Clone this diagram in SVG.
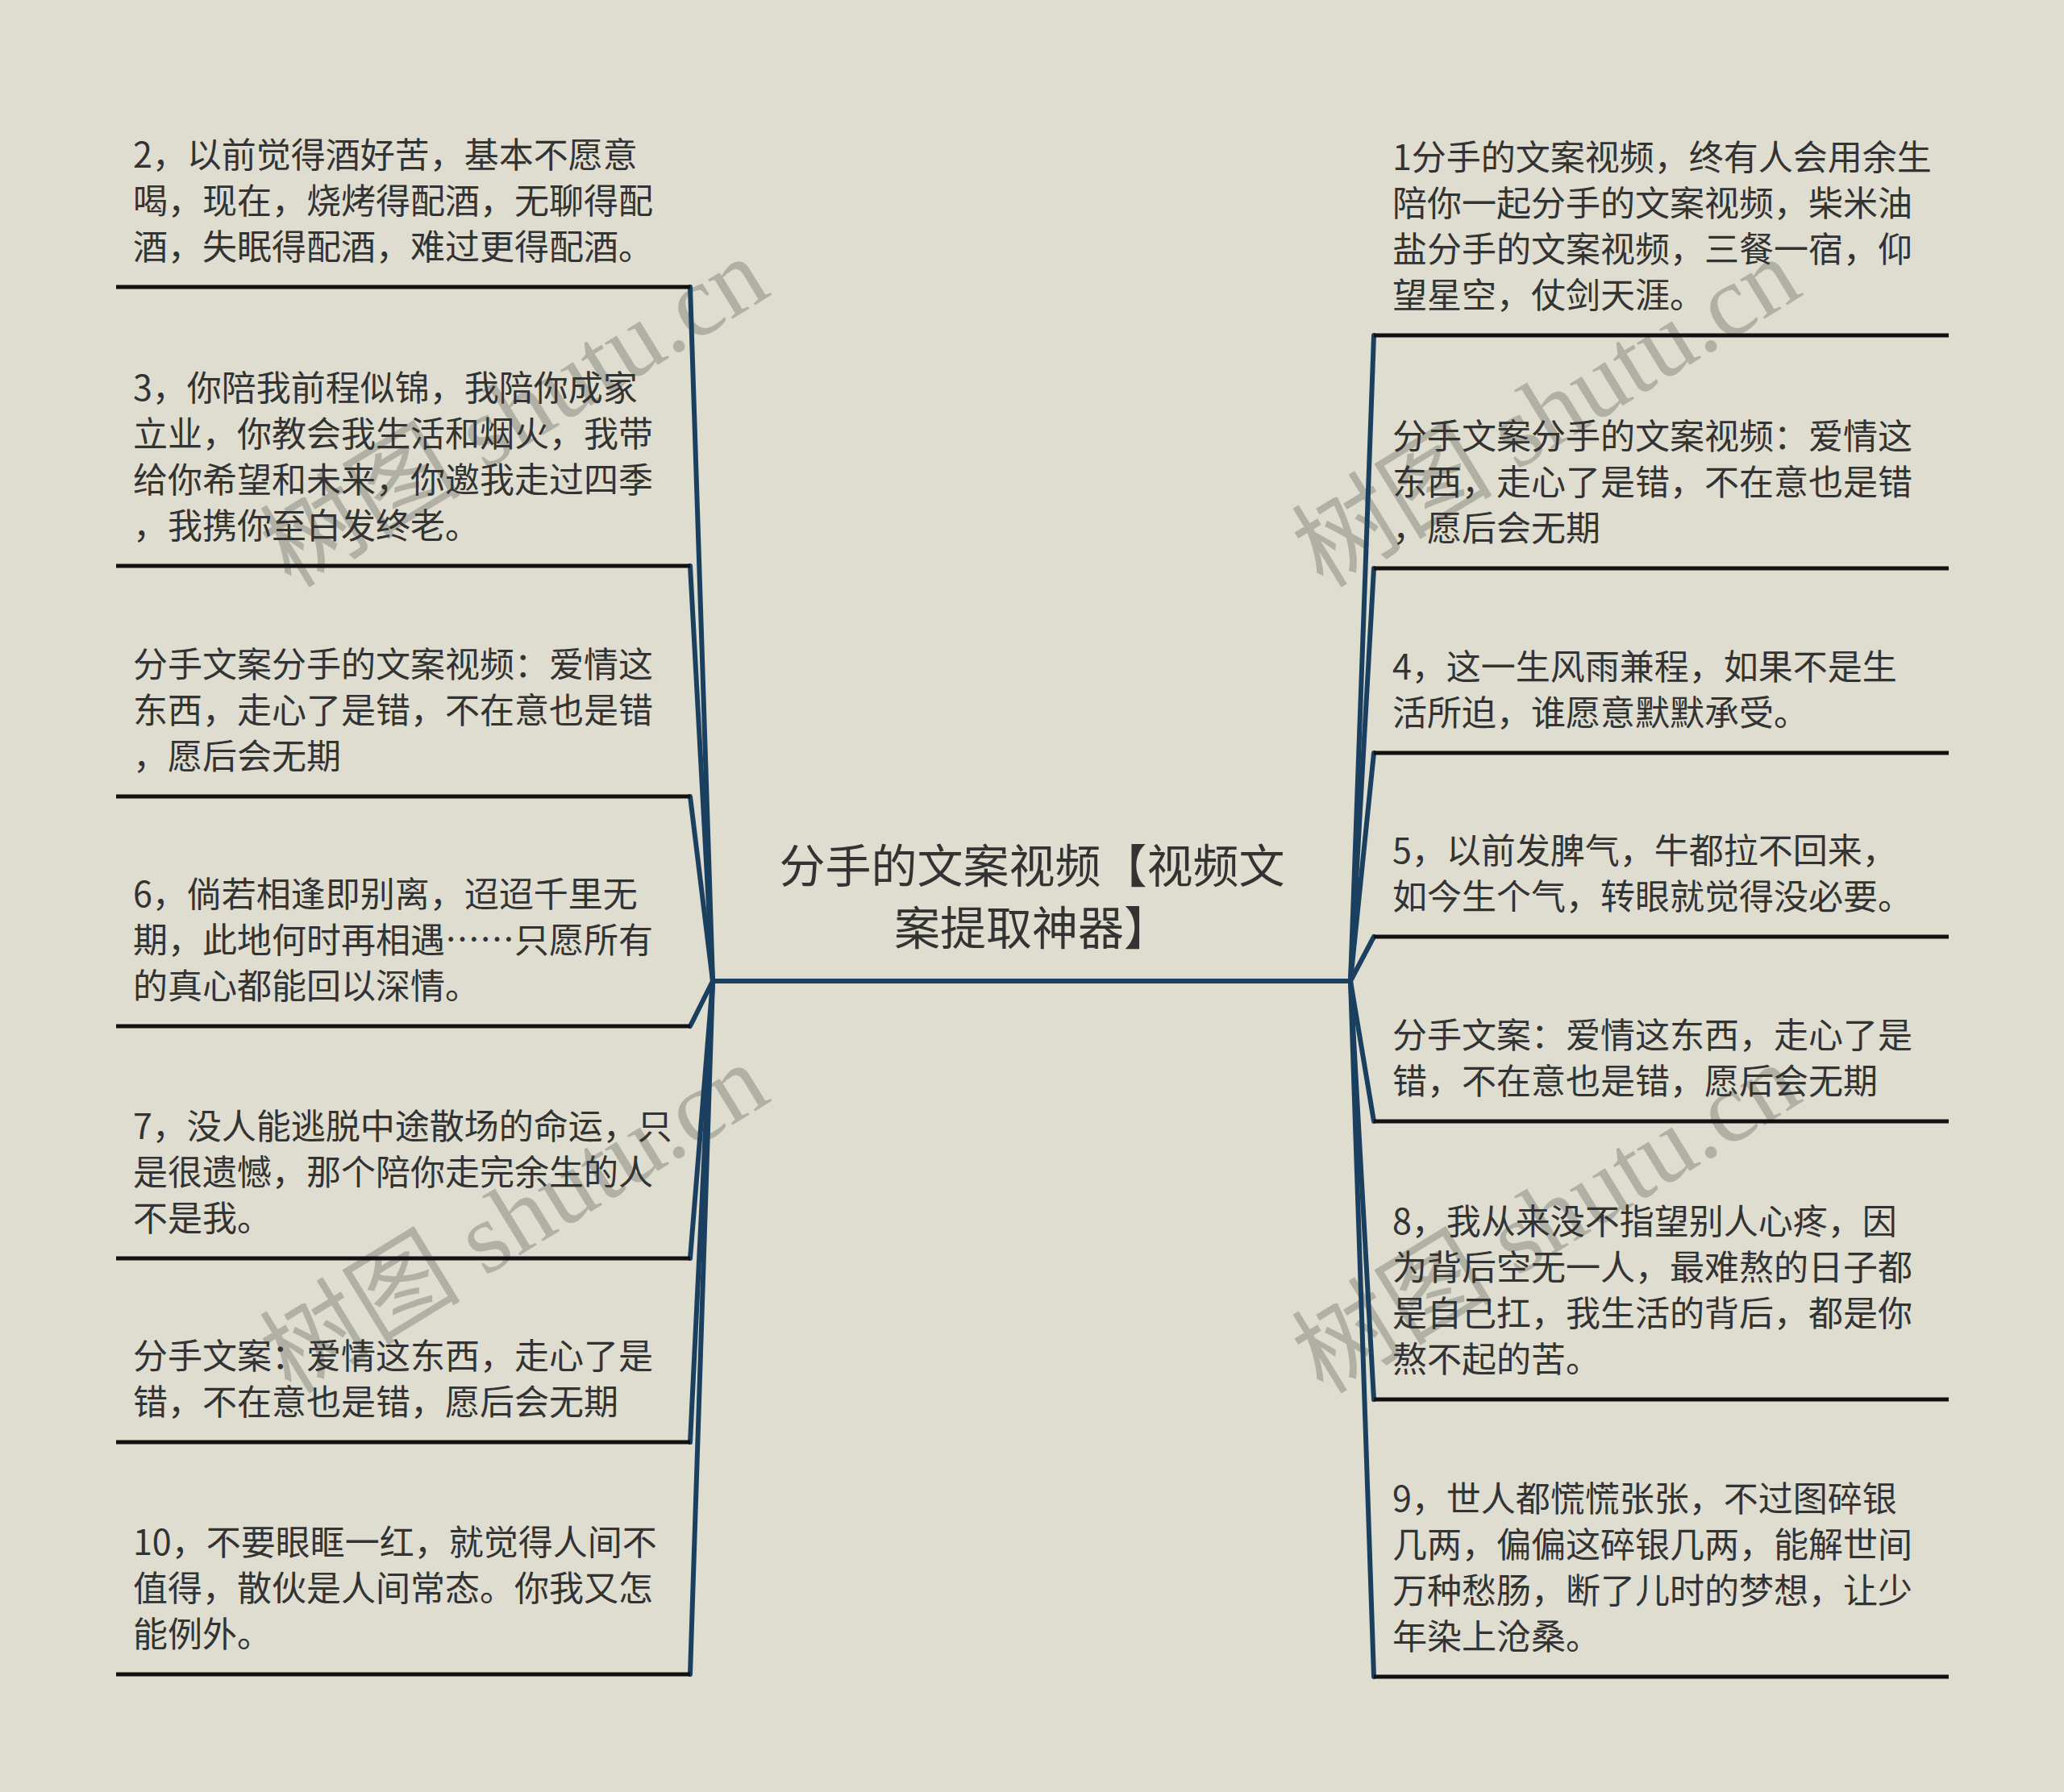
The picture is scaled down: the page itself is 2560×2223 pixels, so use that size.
<svg xmlns="http://www.w3.org/2000/svg" width="2560" height="2223" viewBox="0 0 2560 2223">
<style>
.bg{fill:#dfddd0}
.wm{font-family:'Liberation Serif','Noto Sans CJK SC',serif;font-size:125px;fill:#b1b0a5}
.t{font-family:'Noto Sans CJK SC','Noto Sans',sans-serif;font-size:43px;fill:#333333}
.tc{font-family:'Noto Sans CJK SC','Noto Sans',sans-serif;font-size:57px;fill:#333333;text-anchor:middle}
.ul{stroke:#111111;stroke-width:5;fill:none}
.cn{stroke:#1b3f5f;stroke-width:6;fill:none;stroke-linecap:round}
</style>
<rect class="bg" x="0" y="0" width="2560" height="2223"/>
<g id="watermarks">
<text class="wm" text-anchor="middle" dominant-baseline="central" transform="translate(638,512) rotate(-31.5)">树图 shutu.cn</text>
<text class="wm" text-anchor="middle" dominant-baseline="central" transform="translate(1918,512) rotate(-31.5)">树图 shutu.cn</text>
<text class="wm" text-anchor="middle" dominant-baseline="central" transform="translate(638,1512) rotate(-31.5)">树图 shutu.cn</text>
<text class="wm" text-anchor="middle" dominant-baseline="central" transform="translate(1918,1512) rotate(-31.5)">树图 shutu.cn</text>
</g>
<g id="connectors">
<line class="cn" x1="884" y1="1217" x2="1675" y2="1217"/>
<line class="cn" x1="884" y1="1217" x2="856" y2="356"/>
<line class="cn" x1="884" y1="1217" x2="856" y2="702"/>
<line class="cn" x1="884" y1="1217" x2="856" y2="988"/>
<line class="cn" x1="884" y1="1217" x2="856" y2="1273"/>
<line class="cn" x1="884" y1="1217" x2="856" y2="1561"/>
<line class="cn" x1="884" y1="1217" x2="856" y2="1789"/>
<line class="cn" x1="884" y1="1217" x2="856" y2="2077"/>
<line class="cn" x1="1675" y1="1217" x2="1704" y2="416"/>
<line class="cn" x1="1675" y1="1217" x2="1704" y2="705"/>
<line class="cn" x1="1675" y1="1217" x2="1704" y2="934"/>
<line class="cn" x1="1675" y1="1217" x2="1704" y2="1162"/>
<line class="cn" x1="1675" y1="1217" x2="1704" y2="1391"/>
<line class="cn" x1="1675" y1="1217" x2="1704" y2="1736"/>
<line class="cn" x1="1675" y1="1217" x2="1704" y2="2080"/>
</g>
<g id="center">
<text class="tc" x="1280"><tspan x="1280" y="1095">分手的文案视频【视频文</tspan><tspan x="1280" y="1172">案提取神器】</tspan></text>
</g>
<g id="left1">
<text class="t"><tspan x="165" y="208">2，以前觉得酒好苦，基本不愿意</tspan><tspan x="165" y="265">喝，现在，烧烤得配酒，无聊得配</tspan><tspan x="165" y="322">酒，失眠得配酒，难过更得配酒。</tspan></text>
<line class="ul" x1="144" y1="356" x2="856" y2="356"/>
</g>
<g id="left2">
<text class="t"><tspan x="165" y="497">3，你陪我前程似锦，我陪你成家</tspan><tspan x="165" y="554">立业，你教会我生活和烟火，我带</tspan><tspan x="165" y="611">给你希望和未来，你邀我走过四季</tspan><tspan x="165" y="668">，我携你至白发终老。</tspan></text>
<line class="ul" x1="144" y1="702" x2="856" y2="702"/>
</g>
<g id="left3">
<text class="t"><tspan x="165" y="840">分手文案分手的文案视频：爱情这</tspan><tspan x="165" y="897">东西，走心了是错，不在意也是错</tspan><tspan x="165" y="954">，愿后会无期</tspan></text>
<line class="ul" x1="144" y1="988" x2="856" y2="988"/>
</g>
<g id="left4">
<text class="t"><tspan x="165" y="1125">6，倘若相逢即别离，迢迢千里无</tspan><tspan x="165" y="1182">期，此地何时再相遇……只愿所有</tspan><tspan x="165" y="1239">的真心都能回以深情。</tspan></text>
<line class="ul" x1="144" y1="1273" x2="856" y2="1273"/>
</g>
<g id="left5">
<text class="t"><tspan x="165" y="1413">7，没人能逃脱中途散场的命运，只</tspan><tspan x="165" y="1470">是很遗憾，那个陪你走完余生的人</tspan><tspan x="165" y="1527">不是我。</tspan></text>
<line class="ul" x1="144" y1="1561" x2="856" y2="1561"/>
</g>
<g id="left6">
<text class="t"><tspan x="165" y="1698">分手文案：爱情这东西，走心了是</tspan><tspan x="165" y="1755">错，不在意也是错，愿后会无期</tspan></text>
<line class="ul" x1="144" y1="1789" x2="856" y2="1789"/>
</g>
<g id="left7">
<text class="t"><tspan x="165" y="1929">10，不要眼眶一红，就觉得人间不</tspan><tspan x="165" y="1986">值得，散伙是人间常态。你我又怎</tspan><tspan x="165" y="2043">能例外。</tspan></text>
<line class="ul" x1="144" y1="2077" x2="856" y2="2077"/>
</g>
<g id="right1">
<text class="t"><tspan x="1727" y="211">1分手的文案视频，终有人会用余生</tspan><tspan x="1727" y="268">陪你一起分手的文案视频，柴米油</tspan><tspan x="1727" y="325">盐分手的文案视频，三餐一宿，仰</tspan><tspan x="1727" y="382">望星空，仗剑天涯。</tspan></text>
<line class="ul" x1="1704" y1="416" x2="2417" y2="416"/>
</g>
<g id="right2">
<text class="t"><tspan x="1727" y="557">分手文案分手的文案视频：爱情这</tspan><tspan x="1727" y="614">东西，走心了是错，不在意也是错</tspan><tspan x="1727" y="671">，愿后会无期</tspan></text>
<line class="ul" x1="1704" y1="705" x2="2417" y2="705"/>
</g>
<g id="right3">
<text class="t"><tspan x="1727" y="843">4，这一生风雨兼程，如果不是生</tspan><tspan x="1727" y="900">活所迫，谁愿意默默承受。</tspan></text>
<line class="ul" x1="1704" y1="934" x2="2417" y2="934"/>
</g>
<g id="right4">
<text class="t"><tspan x="1727" y="1071">5，以前发脾气，牛都拉不回来，</tspan><tspan x="1727" y="1128">如今生个气，转眼就觉得没必要。</tspan></text>
<line class="ul" x1="1704" y1="1162" x2="2417" y2="1162"/>
</g>
<g id="right5">
<text class="t"><tspan x="1727" y="1300">分手文案：爱情这东西，走心了是</tspan><tspan x="1727" y="1357">错，不在意也是错，愿后会无期</tspan></text>
<line class="ul" x1="1704" y1="1391" x2="2417" y2="1391"/>
</g>
<g id="right6">
<text class="t"><tspan x="1727" y="1531">8，我从来没不指望别人心疼，因</tspan><tspan x="1727" y="1588">为背后空无一人，最难熬的日子都</tspan><tspan x="1727" y="1645">是自己扛，我生活的背后，都是你</tspan><tspan x="1727" y="1702">熬不起的苦。</tspan></text>
<line class="ul" x1="1704" y1="1736" x2="2417" y2="1736"/>
</g>
<g id="right7">
<text class="t"><tspan x="1727" y="1875">9，世人都慌慌张张，不过图碎银</tspan><tspan x="1727" y="1932">几两，偏偏这碎银几两，能解世间</tspan><tspan x="1727" y="1989">万种愁肠，断了儿时的梦想，让少</tspan><tspan x="1727" y="2046">年染上沧桑。</tspan></text>
<line class="ul" x1="1704" y1="2080" x2="2417" y2="2080"/>
</g>
</svg>
